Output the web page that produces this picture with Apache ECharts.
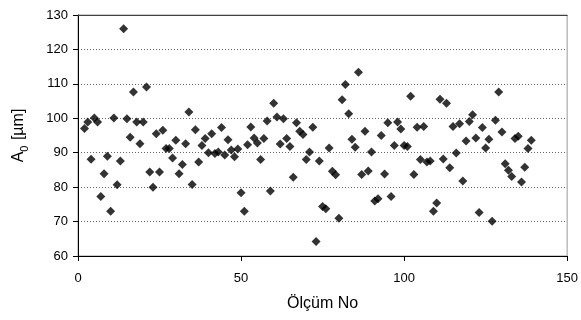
<!DOCTYPE html>
<html>
<head>
<meta charset="utf-8">
<script src="https://cdn.jsdelivr.net/npm/echarts@6/dist/echarts.min.js"></script>
<style>
  html, body { margin: 0; padding: 0; background: #fff; }
  #chart { width: 581px; height: 320px; }
</style>
</head>
<body>
<div id="chart"></div>
<script>
const xTicks = [0, 50, 100, 150];
const yTicks = [60, 70, 80, 90, 100, 110, 120, 130];

// Ölçüm No
const measureNo = [
  2, 3, 4, 5, 6, 7, 8, 9, 10, 11,
  12, 13, 14, 15, 16, 17, 18, 19, 20, 21,
  22, 23, 24, 25, 26, 27, 28, 29, 30, 31,
  32, 33, 34, 35, 36, 37, 38, 39, 40, 41,
  42, 43, 44, 45, 46, 47, 48, 49, 50, 51,
  52, 53, 54, 55, 56, 57, 58, 59, 60, 61,
  62, 63, 64, 65, 66, 67, 68, 69, 70, 71,
  72, 73, 74, 75, 76, 77, 78, 79, 80, 81,
  82, 83, 84, 85, 86, 87, 88, 89, 90, 91,
  92, 93, 94, 95, 96, 97, 98, 99, 100, 101,
  102, 103, 104, 105, 106, 107, 108, 109, 110, 111,
  112, 113, 114, 115, 116, 117, 118, 119, 120, 121,
  122, 123, 124, 125, 126, 127, 128, 129, 130, 131,
  132, 133, 134, 135, 136, 137, 138, 139
];

// A0 [µm]
const a0 = [
  97.0, 98.9, 88.1, 100.1, 98.9, 77.3, 83.9, 89.0, 73.0, 100.1,
  80.7, 87.6, 126.0, 99.9, 94.5, 107.6, 98.9, 92.6, 98.9, 109.1,
  84.4, 80.0, 95.5, 84.4, 96.5, 91.2, 91.2, 88.5, 93.6, 83.9,
  86.6, 92.6, 101.8, 80.8, 96.7, 87.3, 92.1, 94.1, 90.0, 95.5,
  89.8, 90.2, 97.3, 89.3, 93.8, 90.8, 88.8, 91.1, 78.4, 73.0,
  92.3, 97.5, 94.3, 92.8, 88.0, 94.1, 99.2, 78.9, 104.4, 100.4,
  92.5, 99.9, 94.1, 91.8, 82.9, 98.7, 96.2, 95.3, 88.0, 90.2,
  97.4, 64.2, 87.6, 74.4, 73.7, 91.4, 84.6, 83.6, 71.0, 105.4,
  109.8, 101.3, 93.9, 91.6, 113.4, 83.7, 96.2, 84.7, 90.2, 76.0,
  76.6, 95.0, 83.8, 98.7, 77.3, 92.1, 98.9, 96.9, 92.1, 91.8,
  106.4, 83.7, 97.4, 88.0, 97.6, 87.3, 87.6, 73.0, 75.4, 105.5,
  88.2, 104.4, 85.6, 97.6, 89.9, 98.4, 81.8, 93.4, 99.1, 101.0,
  94.3, 72.6, 97.3, 91.4, 93.9, 70.1, 99.4, 107.6, 96.0, 86.8,
  84.9, 83.1, 94.1, 94.8, 81.5, 85.8, 91.2, 93.6
];

const font = 'Arial, "Liberation Sans", sans-serif';
const points = measureNo.map((n, i) => [n, a0[i]]);

const chart = echarts.init(document.getElementById('chart'));
chart.setOption({
  animation: false,
  backgroundColor: '#fff',
  grid: {
    left: 78, right: 10, top: 15, bottom: 64,
    show: true, borderColor: '#9a9a9a', borderWidth: 1
  },
  xAxis: [{
    type: 'value',
    min: xTicks[0], max: xTicks[xTicks.length - 1], interval: 50,
    name: 'Ölçüm No',
    nameLocation: 'middle',
    nameGap: 40,
    nameTextStyle: { fontFamily: font, fontSize: 16, color: '#000' },
    axisLine: { lineStyle: { color: '#000', width: 1 } },
    axisTick: { show: true, length: 5, lineStyle: { color: '#000' } },
    axisLabel: { fontFamily: font, fontSize: 13, color: '#000', margin: 16 },
    splitLine: { show: false }
  }, {
    type: 'value', position: 'top',
    min: xTicks[0], max: xTicks[xTicks.length - 1],
    axisLine: { show: true, lineStyle: { color: '#404040', width: 1 } },
    axisTick: { show: false }, axisLabel: { show: false }, splitLine: { show: false }
  }],
  yAxis: {
    type: 'value',
    min: yTicks[0], max: yTicks[yTicks.length - 1], interval: 10,
    name: '{a|A}{s|0}{a| [µm]}',
    nameLocation: 'middle',
    nameGap: 48,
    nameRotate: 90,
    nameTextStyle: {
      fontFamily: font, fontSize: 16, color: '#000',
      rich: {
        a: { fontFamily: font, fontSize: 16, color: '#000', lineHeight: 22, verticalAlign: 'middle' },
        s: { fontFamily: font, fontSize: 11, color: '#000', lineHeight: 22, verticalAlign: 'bottom', padding: [0, 1, 0, 0] }
      }
    },
    axisLine: { lineStyle: { color: '#000', width: 1 } },
    axisTick: { show: true, length: 5, lineStyle: { color: '#000' } },
    axisLabel: { fontFamily: font, fontSize: 13, color: '#000', margin: 10 },
    splitLine: { show: true, lineStyle: { color: '#666', width: 1, type: [1, 2] } }
  },
  series: [{
    type: 'scatter',
    symbol: 'diamond',
    symbolSize: 9,
    itemStyle: { color: '#000' },
    data: points
  }]
});
</script>
</body>
</html>
